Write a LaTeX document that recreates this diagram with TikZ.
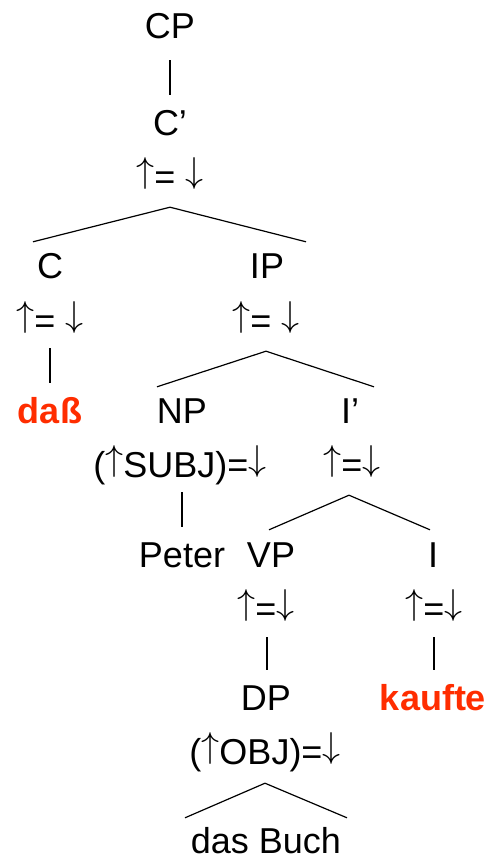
\documentclass[tikz,border=0pt]{standalone}
\usepackage{fontspec}
\setmainfont{Liberation Sans}
\usetikzlibrary{positioning}
\definecolor{hotred}{RGB}{255,45,0}
\newcommand{\upa}{\raisebox{\depth}{\resizebox*{!}{32pt}{$\uparrow$}}}
\newcommand{\dna}{\raisebox{\depth}{\resizebox*{!}{32pt}{$\downarrow$}}}
\tikzset{
    lbl/.style={inner sep=0pt, anchor=base, text height=26pt, text depth=0pt, font=\fontsize{36}{43}\selectfont},
    hit/.style={lbl, text=hotred, font=\fontsize{36}{43}\selectfont\bfseries},
    bar/.style={line width=2pt},
    tri/.style={line width=1.2pt, line join=miter}
}
\begin{document}
\begin{tikzpicture}[x=1pt, y=-1pt]
    \useasboundingbox (0,0) rectangle (491,859);

    % Top
    \node[lbl] (CP) at (170,39) {CP};
    \node[lbl] (Cbar) at (170,135) {C’};
    \node[lbl] (eqCbar) at (170,189) {\upa= \dna};

    % Row C / IP
    \node[lbl] (C) at (50,278) {C};
    \node[lbl] (IP) at (267,278) {IP};
    \node[lbl] (eqC) at (50,333) {\upa= \dna};
    \node[lbl] (eqIP) at (266,333) {\upa= \dna};

    % Row dass / NP / I'
    \node[hit] (dass) at (50,423) {daß};
    \node[lbl] (NP) at (182,423) {NP};
    \node[lbl] (Ibar) at (350,423) {I’};
    \node[lbl] (subj) at (180,477) {(\upa SUBJ)=\dna};
    \node[lbl] (eqIbar) at (352,477) {\upa=\dna};

    % Row Peter / VP / I
    \node[lbl] (Peter) at (182,567) {Peter};
    \node[lbl] (VP) at (271,567) {VP};
    \node[lbl] (I) at (433,567) {I};
    \node[lbl] (eqVP) at (266,621) {\upa=\dna};
    \node[lbl] (eqI) at (434,621) {\upa=\dna};

    % Row DP / kaufte
    \node[lbl] (DP) at (266,710) {DP};
    \node[hit] (kaufte) at (433,710) {kaufte};
    \node[lbl] (obj) at (265,764) {(\upa OBJ)=\dna};
    \node[lbl] (buch) at (266,853) {das Buch};

    % Unary branches
    \draw[bar] ([xshift=2pt, yshift=-15pt]subj.south) -- ([yshift=14pt]Peter.north);
    \draw[bar] ([yshift=-21pt]CP.south) -- ([yshift=14pt]Cbar.north);
    \draw[bar] ([yshift=-15pt]eqC.south) -- ([yshift=14pt]dass.north);
    \draw[bar] ([xshift=1pt, yshift=-16pt]eqVP.south) -- ([xshift=1pt, yshift=14pt]DP.north);
    \draw[bar] ([yshift=-16pt]eqI.south) -- ([xshift=1pt, yshift=14pt]kaufte.north);

    % Binary branches
    \draw[tri] ([xshift=-17pt, yshift=10pt]C.north) -- ([yshift=-18pt]eqCbar.south) -- ([xshift=39pt, yshift=10pt]IP.north);
    \draw[tri] ([xshift=-25pt, yshift=10pt]NP.north) -- ([yshift=-18pt]eqIP.south) -- ([xshift=24pt, yshift=10pt]Ibar.north);
    \draw[tri] ([xshift=-2pt, yshift=11pt]VP.north) -- ([xshift=-3pt, yshift=-18pt]eqIbar.south) -- ([xshift=-3pt, yshift=11pt]I.north);

    % Triangle over das Buch
    \draw[tri] ([xshift=-81pt, yshift=9pt]buch.north) -- ([yshift=-19pt]obj.south) -- ([xshift=81pt, yshift=9pt]buch.north);
\end{tikzpicture}
\end{document}
